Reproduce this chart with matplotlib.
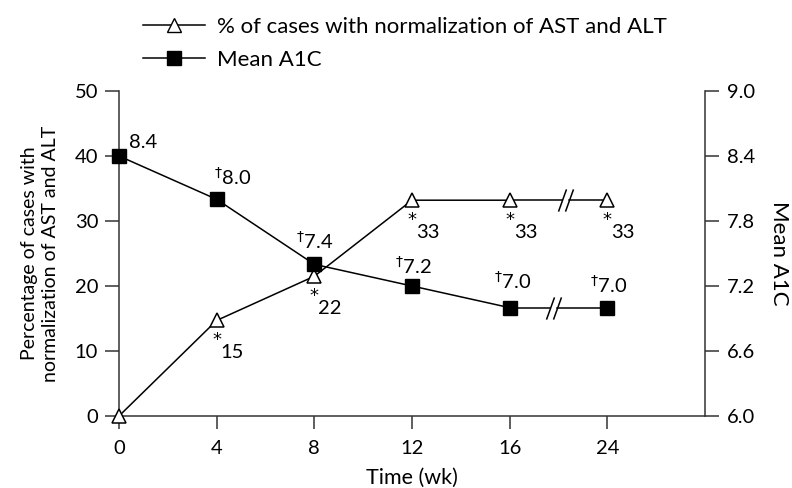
import matplotlib
matplotlib.use("Agg")
import matplotlib.pyplot as plt
from matplotlib.path import Path
from matplotlib.lines import Line2D
import numpy as np

# ---- data ----
weeks = ["0", "4", "8", "12", "16", "24"]
pct_normalized = [0, 14.7, 21.5, 33.2, 33.2, 33.2]
pct_labels = ["", "15", "22", "33", "33", "33"]
mean_a1c = [8.4, 8.0, 7.4, 7.2, 7.0, 7.0]
a1c_labels = ["8.4", "8.0", "7.4", "7.2", "7.0", "7.0"]
a1c_dagger = [False, True, True, True, True, True]
left_ticks = [0, 10, 20, 30, 40, 50]
right_ticks = [6.0, 6.6, 7.2, 7.8, 8.4, 9.0]

plt.rcParams['font.family'] = ['Lato', 'DejaVu Sans']
plt.rcParams['mathtext.fontset'] = 'dejavusans'
FS = 14.5

fig = plt.figure(figsize=(7.92, 4.88), dpi=100)
ax = fig.add_axes([119/792, 1-416/488, (705-119)/792, (416-91)/488])
ax2 = ax.twinx()

x = np.arange(len(weeks))
axis_col = "#333333"

ax.set_xlim(0, len(weeks))
ax.set_ylim(0, 50)
ax2.set_ylim(6.0, 9.0)

for a in (ax, ax2):
    a.spines['top'].set_visible(False)
    for s in a.spines.values():
        s.set_color(axis_col)
        s.set_linewidth(1.1)
    a.patch.set_visible(False)
ax.spines['right'].set_visible(False)
ax2.spines['left'].set_visible(False)
ax2.spines['bottom'].set_visible(False)

ax.set_xticks(x)
ax.set_xticklabels(weeks, fontsize=FS)
ax.set_yticks(left_ticks)
ax.set_yticklabels([str(t) for t in left_ticks], fontsize=FS)
ax2.set_yticks(right_ticks)
ax2.set_yticklabels([f"{t:.1f}" for t in right_ticks], fontsize=FS)
ax.tick_params(axis='y', direction='out', length=10, width=1.1, color=axis_col, pad=5)
ax.tick_params(axis='x', direction='out', length=9, width=1.1, color=axis_col, pad=8)
ax2.tick_params(axis='y', direction='out', length=10, width=1.1, color=axis_col, pad=6)

ax.set_xlabel("Time (wk)", fontsize=15.5, labelpad=8)
ax.set_ylabel("Percentage of cases with\nnormalization of AST and ALT", fontsize=14, labelpad=11,
              linespacing=1.3)
ax2.set_ylabel("Mean A1C", fontsize=16, rotation=-90, labelpad=24)

lw = 1.1
sq_gap = (4.41, 4.48)
tr_gap = (4.54, 4.61)

def broken_line(axis, xs, ys, gap, zorder=2):
    xs = list(xs); ys = list(ys)
    axis.plot(xs[:5], ys[:5], color='black', lw=lw, zorder=zorder, clip_on=False)
    y4, y5 = ys[4], ys[5]
    def yat(xv):
        return y4 + (y5 - y4) * (xv - xs[4]) / (xs[5] - xs[4])
    axis.plot([xs[4], gap[0]], [y4, yat(gap[0])], color='black', lw=lw, zorder=zorder)
    axis.plot([gap[1], xs[5]], [yat(gap[1]), y5], color='black', lw=lw, zorder=zorder)
    slash = Path([(-0.36, -1.0), (0.36, 1.0)], [Path.MOVETO, Path.LINETO])
    axis.plot([gap[0], gap[1]], [yat(gap[0]), yat(gap[1])], linestyle='none',
              marker=slash, markersize=16, markeredgewidth=lw, color='black', zorder=zorder)

broken_line(ax, x, pct_normalized, tr_gap)
ax.plot(x, pct_normalized, linestyle='none', marker='^', markersize=10,
        markerfacecolor='white', markeredgecolor='black', markeredgewidth=1.1, zorder=4,
        clip_on=False)

broken_line(ax2, x, mean_a1c, sq_gap)
ax2.plot(x, mean_a1c, linestyle='none', marker='s', markersize=10,
         markerfacecolor='black', markeredgecolor='black', zorder=4, clip_on=False)

# triangle labels: asterisk below, value lower-right
for xi, yi, lab in zip(x, pct_normalized, pct_labels):
    if not lab:
        continue
    ax.annotate("*", (xi, yi), xytext=(0, -20*0.72), textcoords='offset points',
                ha='center', va='center', fontsize=13, family='DejaVu Sans')
    ax.annotate(lab, (xi, yi), xytext=(4*0.72, -32*0.72), textcoords='offset points',
                ha='left', va='center', fontsize=FS)

# square labels (dagger as superscript)
sq_offsets = [(10, 13), (-3, 22), (-18, 23), (-17, 20), (-16, 27), (-17, 23)]
for xi, yi, lab, dg, off in zip(x, mean_a1c, a1c_labels, a1c_dagger, sq_offsets):
    ox, oy = off
    txt = (r"$^{\dagger}$" + lab) if dg else lab
    ax2.annotate(txt, (xi, yi), xytext=(ox*0.72, oy*0.72), textcoords='offset points',
                 ha='left', va='center', fontsize=FS)

# legend
h1 = Line2D([], [], color='black', lw=lw, marker='^', markersize=10,
            markerfacecolor='white', markeredgecolor='black')
h2 = Line2D([], [], color='black', lw=lw, marker='s', markersize=10,
            markerfacecolor='black', markeredgecolor='black')
leg = fig.legend([h1, h2], ["% of cases with normalization of AST and ALT", "Mean A1C"],
                 loc='upper left', bbox_to_anchor=(127/792, 1-1/488), frameon=False,
                 prop={'family': ['Lato', 'DejaVu Sans'], 'size': 16},
                 handlelength=2.8, handletextpad=0.55, labelspacing=0.6, borderpad=0.2)

fig.savefig("out.png", dpi=100)
